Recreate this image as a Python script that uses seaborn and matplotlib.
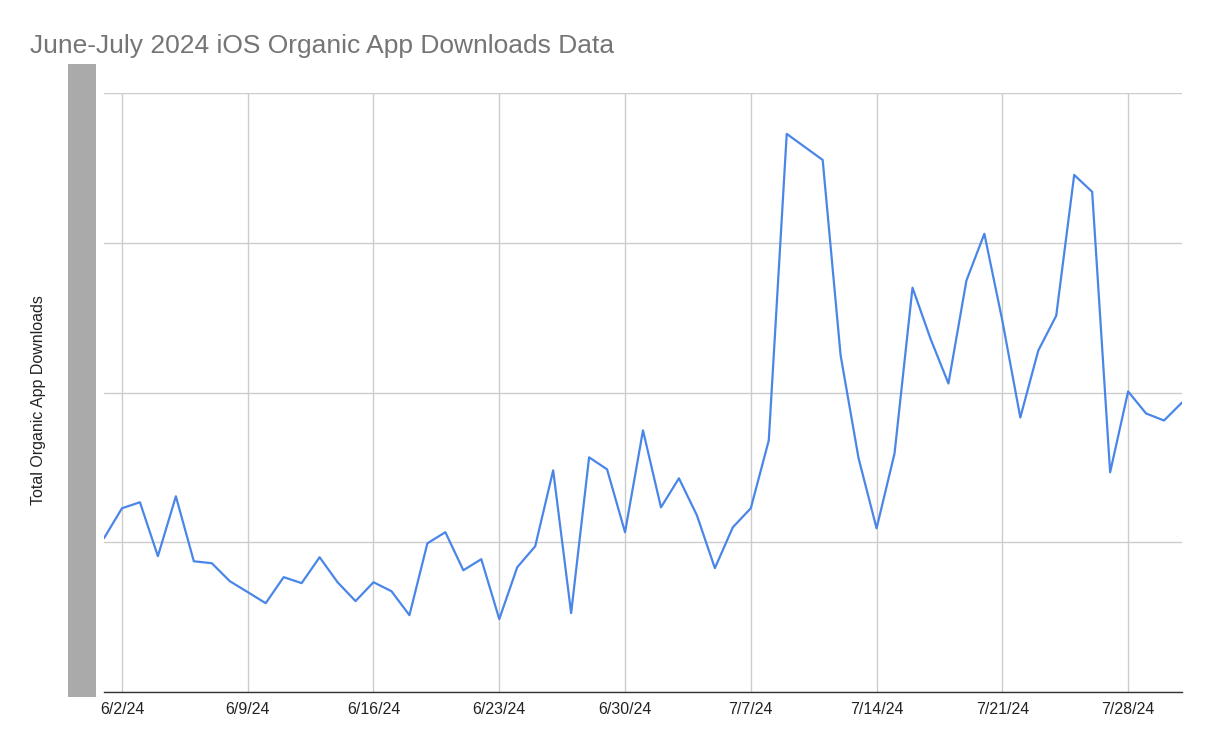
#!/usr/bin/env python3
# plot.py - June/July 2024 iOS organic downloads, daily line

import pandas as pd
import seaborn as sns
import matplotlib.pyplot as plt
import matplotlib.dates as mdates
from matplotlib.patches import Rectangle

# --- data (y axis labels are hidden) ---
start_date = "2024-06-01"
end_date = "2024-07-31"
downloads = [
    1027, 1227, 1267, 907, 1307, 873, 860, 740, 667, 593,
    767, 727, 900, 733, 607, 733, 673, 513, 993, 1067,
    813, 887, 487, 833, 973, 1480, 527, 1567, 1487, 1067,
    1747, 1233, 1427, 1180, 827, 1100, 1227, 1680, 3727, 3640,
    3553, 2247, 1560, 1093, 1593, 2700, 2360, 2060, 2747, 3060,
    2480, 1833, 2280, 2513, 3453, 3340, 1467, 2007, 1860, 1813,
    1933,
]
y_grid = [0, 1000, 2000, 3000, 4000]

df = pd.DataFrame({
    "date": pd.date_range(start_date, end_date, freq="D"),
    "downloads": downloads,
})

# --- plot ---
sns.set_theme(style="white")
plt.rcParams["font.family"] = ["Liberation Sans", "DejaVu Sans"]

fig = plt.figure(figsize=(12.14, 7.48), dpi=100)
ax = fig.add_axes([104 / 1214, 1 - 692 / 748, (1182 - 104) / 1214, (692 - 93) / 748])

sns.lineplot(data=df, x="date", y="downloads", ax=ax,
             color="#4a86e8", linewidth=1.6)

ax.set_xlim(pd.Timestamp(start_date), pd.Timestamp(end_date))
ax.set_ylim(y_grid[0], y_grid[-1])
ax.set_yticks(y_grid)
ax.set_yticklabels([])
ax.tick_params(axis="y", length=0)

ax.xaxis.set_major_locator(mdates.WeekdayLocator(byweekday=mdates.SU))
ax.xaxis.set_major_formatter(mdates.DateFormatter("%-m/%-d/%y"))
ax.tick_params(axis="x", length=0, labelsize=11.5, pad=7, labelcolor="#222222")

ax.grid(True, color="#cccccc", linewidth=1.0)
ax.set_axisbelow(True)
for side in ["top", "right", "left"]:
    ax.spines[side].set_visible(False)
ax.spines["bottom"].set_color("#333333")
ax.spines["bottom"].set_linewidth(1.0)

ax.set_xlabel("")
ax.set_ylabel("")

# title and axis label
fig.text(30 / 1214, 1 - 46 / 748, "June-July 2024 iOS Organic App Downloads Data",
         fontsize=19, color="#757575", va="center", ha="left")
fig.text(39 / 1214, 1 - 400 / 748, "Total Organic App Downloads",
         fontsize=11.5, color="#222222", rotation=90, va="center", ha="center")

# grey block covering the y tick labels
fig.patches.append(Rectangle((68 / 1214, 1 - 697 / 748), 28 / 1214, (697 - 64) / 748,
                             transform=fig.transFigure, facecolor="#aaaaaa",
                             edgecolor="none"))

fig.savefig("out.png", dpi=100)
plt.close(fig)
